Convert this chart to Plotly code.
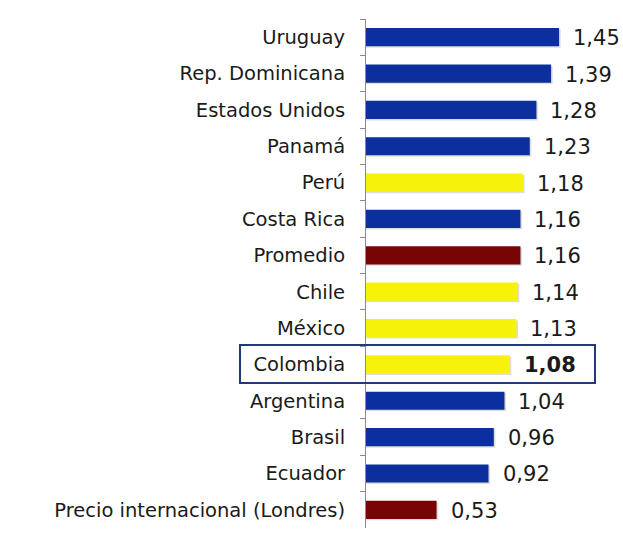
import plotly.graph_objects as go

categories = ["Uruguay", "Rep. Dominicana", "Estados Unidos", "Panamá", "Perú",
              "Costa Rica", "Promedio", "Chile", "México", "Colombia",
              "Argentina", "Brasil", "Ecuador", "Precio internacional (Londres)"]
values = [1.45, 1.39, 1.28, 1.23, 1.18, 1.16, 1.16, 1.14, 1.13, 1.08, 1.04, 0.96, 0.92, 0.53]
value_labels = ["1,45", "1,39", "1,28", "1,23", "1,18", "1,16", "1,16", "1,14", "1,13",
                "<b>1,08</b>", "1,04", "0,96", "0,92", "0,53"]
groups = ["otro", "otro", "otro", "otro", "andino", "otro", "ref", "andino", "andino",
          "andino", "otro", "otro", "otro", "ref"]

color_map = {"otro": "#0b2f9e", "andino": "#f7f20a", "ref": "#780505"}
colors = [color_map[g] for g in groups]
FONT = "DejaVu Sans"

fig = go.Figure()
# soft shadow behind bars
fig.add_trace(go.Bar(
    y=categories, x=[v + 0.012 for v in values], orientation="h",
    marker=dict(color="rgba(0,0,0,0.13)", line=dict(width=0)),
    width=0.5, offset=-0.21, hoverinfo="skip",
))
fig.add_trace(go.Bar(
    y=categories, x=values, orientation="h",
    marker=dict(color=colors, line=dict(width=0)),
    width=0.5, offset=-0.25,
))

for cat, v, lab in zip(categories, values, value_labels):
    fig.add_annotation(x=v, y=cat, xref="x", yref="y", text=lab,
                       showarrow=False, xanchor="left", yanchor="middle",
                       xshift=12, yshift=-1,
                       font=dict(size=21, color="#1a1a1a", family=FONT))

# highlight box around Colombia (pixel-based paper coords)
W, H = 623, 533
ml, mr, mt, mb = 366, 4, 19, 5
pw, ph = W - ml - mr, H - mt - mb
def px(x):
    return (x - ml) / pw
def py(y):
    return 1 - (y - mt) / ph
fig.add_shape(type="rect", xref="paper", yref="paper",
              x0=px(240), x1=px(595), y0=py(383), y1=py(345),
              line=dict(color="#22397a", width=2), fillcolor="rgba(0,0,0,0)")

fig.update_layout(
    width=W, height=H,
    margin=dict(l=ml, r=mr, t=mt, b=mb),
    paper_bgcolor="white", plot_bgcolor="white",
    showlegend=False, barmode="overlay",
    font=dict(family=FONT, color="#222222"),
)
fig.update_xaxes(range=[0, 1.9], visible=False)
fig.update_yaxes(
    categoryorder="array", categoryarray=categories, autorange="reversed",
    showline=True, linecolor="#8a8a8a", linewidth=1,
    ticks="outside", tickson="boundaries", ticklen=5, tickcolor="#8a8a8a",
    ticklabelstandoff=16,
    tickfont=dict(size=19.5, color="#1a1a1a", family=FONT),
    showgrid=False,
)

fig.write_html("out.html")
